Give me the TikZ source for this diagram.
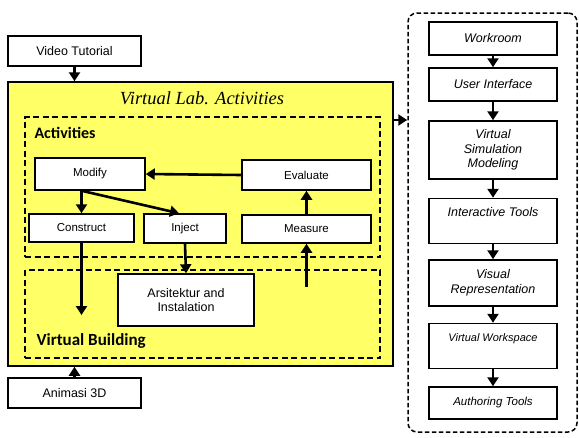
\documentclass[tikz,border=0pt]{standalone}
\usepackage{fontspec}
\setmainfont{Liberation Sans}
\newfontfamily\titlefont{Liberation Serif}
\newfontfamily\groupfont{Carlito}
\usetikzlibrary{arrows.meta}
\definecolor{labyellow}{RGB}{255,255,102}

\begin{document}
\begin{tikzpicture}[x=1pt,y=-1pt,
box/.style={draw=black,line width=1.5pt,fill=white,inner sep=0pt,align=center,font=\fontsize{11.5}{13}\selectfont},
sidebox/.style={box,minimum width=128pt,font=\fontsize{12.5}{14.5}\selectfont\itshape},
group/.style={draw=black,line width=2.4pt,dash pattern=on 6pt off 3.5pt,inner sep=0pt},
arr/.style={line width=2.6pt,-{Triangle[width=11pt,length=9pt]}}]
%\draw[help lines] (0,0) grid (579,437);
\useasboundingbox (0,0) rectangle (579,437);

\node[box,minimum width=133pt,minimum height=30pt,font=\fontsize{12.5}{14}\selectfont] (video) at (74.5,51) {Video Tutorial};
\node[draw=black,line width=1.5pt,fill=labyellow,minimum width=385pt,minimum height=284pt,inner sep=0pt] (lab) at (200.5,224) {};
\node[font=\titlefont\fontsize{18.5}{20}\selectfont\itshape] (title) at (202,98) {Virtual Lab. Activities};

\node[group,minimum width=355pt,minimum height=140pt] (act) at (202.5,187) {};
\node[anchor=west,font=\groupfont\fontsize{16}{18}\selectfont\bfseries] (actlabel) at (31,133) {Activities};
\node[box,minimum width=110pt,minimum height=32pt] (modify) at (90,174) {Modify};
\node[box,minimum width=129pt,minimum height=30pt] (evaluate) at (306.5,175) {Evaluate};
\node[box,minimum width=105pt,minimum height=28pt] (construct) at (81.5,228) {Construct};
\node[box,minimum width=82pt,minimum height=29pt] (inject) at (185,228.5) {Inject};
\node[box,minimum width=129pt,minimum height=28pt] (measure) at (306.5,229) {Measure};

\node[group,minimum width=355pt,minimum height=88pt] (build) at (202.5,314) {};
\node[box,minimum width=136pt,minimum height=52pt,font=\fontsize{12.5}{14.5}\selectfont] (arsitektur) at (186,300) {Arsitektur and\\Instalation};
\node[anchor=west,font=\groupfont\fontsize{17}{19}\selectfont\bfseries] (buildlabel) at (33,341) {Virtual Building};

\node[box,minimum width=133pt,minimum height=30pt,font=\fontsize{12.5}{14}\selectfont] (animasi) at (74.5,393) {Animasi 3D};

\node[draw=black,line width=1.5pt,dash pattern=on 4.5pt off 2.5pt,rounded corners=9pt,minimum width=169pt,minimum height=419pt] (side) at (492.5,222.5) {};
\node[sidebox,minimum height=33pt] (workroom) at (493,38.5) {Workroom};
\node[sidebox,minimum height=33pt] (ui) at (493,84.5) {User Interface};
\node[sidebox,minimum height=58pt] (vsm) at (493,150) {Virtual\\Simulation\\Modeling};
\node[sidebox,minimum height=45pt] (itools) at (493,221) {Interactive Tools\\[4pt]\mbox{}};
\node[sidebox,minimum height=46pt] (vrep) at (493,283) {Visual\\Representation};
\node[sidebox,minimum height=45pt,font=\fontsize{11}{13}\selectfont\itshape] (vws) at (493,346) {Virtual Workspace\\[3pt]\mbox{}};
\node[sidebox,minimum height=32pt,font=\fontsize{11.5}{13}\selectfont\itshape] (auth) at (493,403) {Authoring Tools};

\coordinate (labout) at (393,120);
\coordinate (conend) at (construct.south |- 0,315);
\coordinate (meastart) at (measure.south |- 0,287);

\draw[arr] (video.south) -- (video.south |- lab.north);
\draw[arr] (animasi.north) -- (animasi.north |- lab.south);
\draw[arr] (labout) -- (side.west |- labout);
\draw[arr] (evaluate.west) -- (modify.east);
\draw[arr] (construct.north |- modify.south) -- (construct.north);
\draw[arr] (construct.north |- modify.south) -- ([xshift=-6pt]inject.north);
\draw[arr] (construct.south) -- (conend);
\draw[arr] (inject.south) -- (arsitektur.north);
\draw[arr] (meastart) -- (measure.south);
\draw[arr] (measure.north) -- (evaluate.south);
\draw[arr] (workroom) -- (ui);
\draw[arr] (ui) -- (vsm);
\draw[arr] (vsm) -- (itools);
\draw[arr] (itools) -- (vrep);
\draw[arr] (vrep) -- (vws);
\draw[arr] (vws) -- (auth);
\end{tikzpicture}
\end{document}
